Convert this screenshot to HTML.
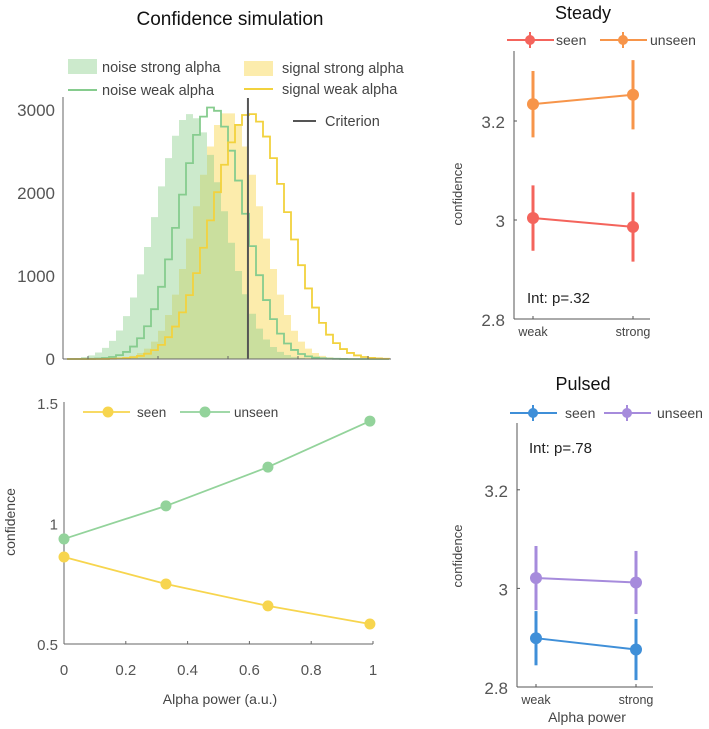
<!DOCTYPE html>
<html><head><meta charset="utf-8">
<style>
html,body{margin:0;padding:0;background:#fff;}
svg{display:block;font-family:"Liberation Sans",sans-serif;}
</style></head>
<body>
<svg id="fig" width="709" height="729" viewBox="0 0 709 729" xmlns="http://www.w3.org/2000/svg"></svg>
<script>
// ---------- Histogram data (bins start 0.14, width 0.02) ----------
const binStart = 0.14;
const binWidth = 0.02;
const noiseStrong = [6,12,24,44,79,134,218,344,517,741,1020,1350,1710,2080,2420,2690,2880,2950,2900,2730,2460,2130,1780,1400,1060,780,545,366,235,145,86,48,26,14,7,3,1,0,0,0,0,0,0,0,0,0];
const noiseWeak = [0,0,1,2,5,12,24,47,85,150,250,395,600,870,1200,1580,1980,2360,2700,2920,3030,2990,2800,2510,2150,1750,1360,1010,710,480,306,187,109,60,32,16,8,4,2,1,0,0,0,0,0,0];
const signalStrong = [0,0,0,0,0,2,4,10,19,38,72,125,210,340,530,775,1085,1450,1840,2220,2560,2820,2960,2960,2820,2560,2220,1840,1450,1085,775,530,340,210,125,72,38,19,10,4,2,0,0,0,0,0];
const signalWeak = [0,0,0,0,0,1,3,6,11,21,37,64,107,170,263,391,562,770,1035,1340,1670,2010,2340,2610,2820,2940,2950,2860,2680,2420,2110,1770,1440,1130,850,620,435,293,191,120,73,43,24,13,7,3];
const criterion = 0.657;
const histYTicks = [0,1000,2000,3000];
const histXTicks = [0.2,0.4,0.6,0.8,1.0];
// ---------- Simulation line data ----------
const simX = [0,0.33,0.66,0.99];
const simSeen = [0.861,0.749,0.658,0.583];
const simUnseen = [0.936,1.073,1.234,1.425];
const simXTicks = [0,0.2,0.4,0.6,0.8,1];
const simXTickLabels = ["0","0.2","0.4","0.6","0.8","1"];
const simYTicks = [0.5,1,1.5];
const simYTickLabels = ["0.5","1","1.5"];
// ---------- Steady / Pulsed ----------
const condCats = ["weak","strong"];
const steadySeen = [3.004,2.986];
const steadySeenErr = [0.066,0.07];
const steadyUnseen = [3.234,3.253];
const steadyUnseenErr = [0.067,0.07];
const pulsedSeen = [2.899,2.876];
const pulsedSeenErr = [0.055,0.062];
const pulsedUnseen = [3.021,3.012];
const pulsedUnseenErr = [0.065,0.064];
const condYTicks = [2.8,3,3.2];
const condYTickLabels = ["2.8","3","3.2"];

const NS="http://www.w3.org/2000/svg";
const svg=document.getElementById('fig');
function mk(tag,attrs,parent){const e=document.createElementNS(NS,tag);for(const k in attrs)e.setAttribute(k,attrs[k]);(parent||svg).appendChild(e);return e;}
function txt(s,attrs,parent){const e=mk('text',attrs,parent);e.textContent=s;return e;}

// ===== Histogram panel =====
const hg=mk('g',{});


const hx=u=>88+(u-0.2)*350;
const hy=c=>359-c*0.083;
function stepPath(arr,closed){
  let d='M'+hx(binStart)+','+hy(0);
  arr.forEach((v,i)=>{const x0=hx(binStart+i*binWidth),x1=hx(binStart+(i+1)*binWidth);d+=' L'+x0+','+hy(v)+' L'+x1+','+hy(v);});
  d+=' L'+hx(binStart+arr.length*binWidth)+','+hy(0);
  if(closed)d+=' Z';
  return d;
}
let p=mk('path',{d:stepPath(signalStrong,true),fill:'#f8d548','fill-opacity':0.45,stroke:'none'},hg);

p=mk('path',{d:stepPath(noiseStrong,true),fill:'#8fd08f','fill-opacity':0.45,stroke:'none'},hg);

p=mk('path',{d:stepPath(noiseWeak,false),fill:'none',stroke:'#86cc8e','stroke-width':1.8},hg);

p=mk('path',{d:stepPath(signalWeak,false),fill:'none',stroke:'#f2d23e','stroke-width':1.8},hg);

p=mk('line',{x1:hx(criterion),x2:hx(criterion),y1:98,y2:359,stroke:'#555','stroke-width':2},hg);

mk('line',{x1:63,x2:63,y1:97,y2:359,stroke:'#666','stroke-width':1},hg);
mk('line',{x1:63,x2:391,y1:359,y2:359,stroke:'#666','stroke-width':1},hg);
histXTicks.forEach(t=>{mk('line',{x1:hx(t),x2:hx(t),y1:359,y2:356,stroke:'#666'},hg);});
histYTicks.forEach(t=>{const e=txt(String(t),{x:55,y:hy(t)+6,'text-anchor':'end','font-size':17,fill:'#555'},hg);
});
let t=txt('Confidence simulation',{x:230,y:25,'text-anchor':'middle','font-size':19,fill:'#111'});

// legend
const lg=mk('g',{});

mk('rect',{x:68,y:59,width:29,height:15,fill:'#8fd08f','fill-opacity':0.45},lg);
txt('noise strong alpha',{x:102,y:72,'font-size':14.5,fill:'#444'},lg);
mk('line',{x1:68,x2:97,y1:90,y2:90,stroke:'#86cc8e','stroke-width':2},lg);
txt('noise weak alpha',{x:102,y:95,'font-size':14.5,fill:'#444'},lg);
mk('rect',{x:244,y:61,width:29,height:15,fill:'#f8d548','fill-opacity':0.45},lg);
txt('signal strong alpha',{x:282,y:73,'font-size':14.5,fill:'#444'},lg);
mk('line',{x1:244,x2:273,y1:89,y2:89,stroke:'#f2d23e','stroke-width':2},lg);
txt('signal weak alpha',{x:282,y:94,'font-size':14.5,fill:'#444'},lg);
mk('line',{x1:293,x2:316,y1:121,y2:121,stroke:'#555','stroke-width':2},lg);
txt('Criterion',{x:325,y:126,'font-size':14.5,fill:'#444'},lg);

// ===== Simulation line panel =====
const sg=mk('g',{});

const sx=u=>64+u*309;
const sy=v=>644-(v-0.5)*241;
mk('line',{x1:64,x2:64,y1:402,y2:644,stroke:'#666'},sg);
mk('line',{x1:64,x2:373,y1:644,y2:644,stroke:'#666'},sg);
simXTicks.forEach((v,i)=>{mk('line',{x1:sx(v),x2:sx(v),y1:644,y2:641,stroke:'#666'},sg);
const e=txt(simXTickLabels[i],{x:sx(v),y:675,'text-anchor':'middle','font-size':15,fill:'#555'},sg);
});
simYTicks.forEach((v,i)=>{const e=txt(simYTickLabels[i],{x:58,y:sy(v)+6,'text-anchor':'end','font-size':15,fill:'#555'},sg);
});
function series(xs,ys,col,name,g,xf,yf){
  const l=mk('polyline',{points:xs.map((x,i)=>xf(x)+','+yf(ys[i])).join(' '),fill:'none',stroke:col,'stroke-width':1.8},g);
  
  xs.forEach((x,i)=>{const c=mk('circle',{cx:xf(x),cy:yf(ys[i]),r:5.5,fill:col},g);
  });
}
series(simX,simUnseen,'#93d39b','sim-unseen',sg,sx,sy);
series(simX,simSeen,'#f7d54e','sim-seen',sg,sx,sy);
mk('line',{x1:83,x2:130,y1:412,y2:412,stroke:'#f7d54e','stroke-width':1.8},sg);
mk('circle',{cx:108,cy:412,r:5.5,fill:'#f7d54e'},sg);
txt('seen',{x:137,y:417,'font-size':13.5,fill:'#444'},sg);
mk('line',{x1:180,x2:230,y1:412,y2:412,stroke:'#93d39b','stroke-width':1.8},sg);
mk('circle',{cx:205,cy:412,r:5.5,fill:'#93d39b'},sg);
txt('unseen',{x:234,y:417,'font-size':13.5,fill:'#444'},sg);
t=txt('Alpha power (a.u.)',{x:220,y:704,'text-anchor':'middle','font-size':14,fill:'#444'},sg);

t=txt('confidence',{x:0,y:0,'text-anchor':'middle','font-size':14,fill:'#444',transform:'translate(15,522) rotate(-90)'},sg);


// ===== Condition panels =====
function condPanel(o){
  const g=mk('g',{});
  
  const yf=v=>o.y0-(v-2.8)*o.k;
  const xf=i=>o.xw+i*100;
  mk('line',{x1:o.ax,x2:o.ax,y1:o.top,y2:o.y0,stroke:'#555'},g);
  mk('line',{x1:o.ax,x2:o.ax+136,y1:o.y0,y2:o.y0,stroke:'#555'},g);
  condYTicks.forEach((v,i)=>{mk('line',{x1:o.ax,x2:o.ax+3,y1:yf(v),y2:yf(v),stroke:'#555'},g);
  const e=txt(condYTickLabels[i],{x:o.ax-9,y:yf(v)+7,'text-anchor':'end','font-size':17,fill:'#555'},g);
  });
  condCats.forEach((c,i)=>{mk('line',{x1:xf(i),x2:xf(i),y1:o.y0,y2:o.y0-3,stroke:'#555'},g);
  const e=txt(c,{x:xf(i),y:o.y0+17,'text-anchor':'middle','font-size':12.5,fill:'#444'},g);
  });
  [[o.seen,o.seenErr,o.c1,'seen'],[o.unseen,o.unseenErr,o.c2,'unseen']].forEach(([v,er,col,nm])=>{
    const l=mk('line',{x1:xf(0),y1:yf(v[0]),x2:xf(1),y2:yf(v[1]),stroke:col,'stroke-width':2},g);
    
    v.forEach((val,i)=>{
      const eb=mk('line',{x1:xf(i),x2:xf(i),y1:yf(val-er[i]),y2:yf(val+er[i]),stroke:col,'stroke-width':3},g);
      
      const c=mk('circle',{cx:xf(i),cy:yf(val),r:6,fill:col},g);
      
    });
  });
  const ti=txt(o.title,{x:583,y:o.titleY,'text-anchor':'middle','font-size':18,fill:'#111'},g);
  
  const ly=o.legY;
  mk('line',{x1:o.lm1-23,x2:o.lm1+24,y1:ly,y2:ly,stroke:o.c1,'stroke-width':2},g);
  mk('line',{x1:o.lm1,x2:o.lm1,y1:ly-8,y2:ly+8,stroke:o.c1,'stroke-width':2},g);
  mk('circle',{cx:o.lm1,cy:ly,r:5,fill:o.c1},g);
  txt('seen',{x:o.lt1,y:ly+5,'font-size':14,fill:'#444'},g);
  mk('line',{x1:o.lm2-23,x2:o.lm2+24,y1:ly,y2:ly,stroke:o.c2,'stroke-width':2},g);
  mk('line',{x1:o.lm2,x2:o.lm2,y1:ly-8,y2:ly+8,stroke:o.c2,'stroke-width':2},g);
  mk('circle',{cx:o.lm2,cy:ly,r:5,fill:o.c2},g);
  txt('unseen',{x:o.lt2,y:ly+5,'font-size':14,fill:'#444'},g);
  const it=txt(o.intText,{x:o.intX,y:o.intY,'font-size':15,fill:'#222'},g);
  
  const yl=txt('confidence',{x:0,y:0,'text-anchor':'middle','font-size':13,fill:'#444',transform:'translate('+462+','+o.ylabY+') rotate(-90)'},g);
  
}
condPanel({name:'steady',title:'Steady',titleY:19,ax:514,top:51,y0:319,k:495,xw:533,
  seen:steadySeen,seenErr:steadySeenErr,unseen:steadyUnseen,unseenErr:steadyUnseenErr,
  c1:'#f4645c',c2:'#f7954a',legY:40,lm1:530,lt1:556,lm2:623,lt2:650,intText:'Int: p=.32',intX:527,intY:303,ylabY:194});
condPanel({name:'pulsed',title:'Pulsed',titleY:390,ax:517,top:423,y0:687,k:493,xw:536,
  seen:pulsedSeen,seenErr:pulsedSeenErr,unseen:pulsedUnseen,unseenErr:pulsedUnseenErr,
  c1:'#3f8fd8',c2:'#a68bdc',legY:413,lm1:533,lt1:565,lm2:627,lt2:657,intText:'Int: p=.78',intX:529,intY:453,ylabY:556});
t=txt('Alpha power',{x:587,y:722,'text-anchor':'middle','font-size':14,fill:'#444'});

</script>
</body></html>
